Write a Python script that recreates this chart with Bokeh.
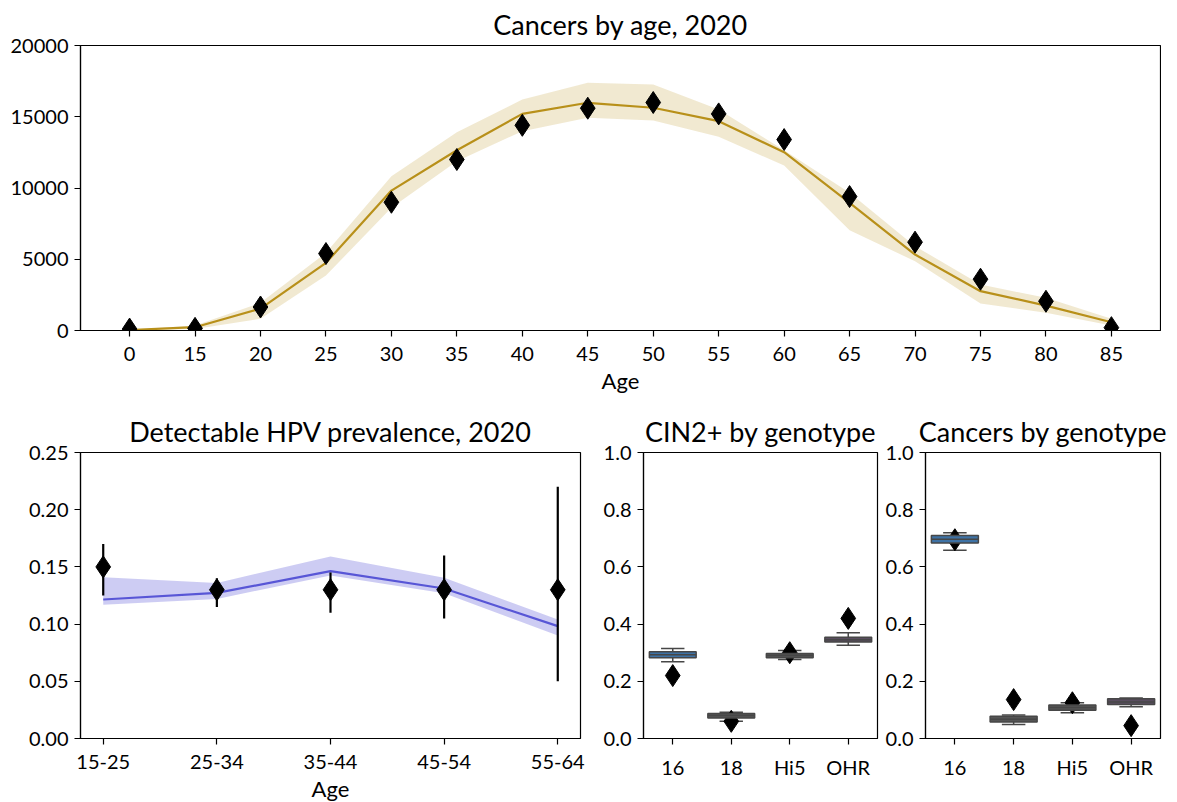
from bokeh.plotting import figure
from bokeh.layouts import column, row
from bokeh.models import Range1d, FixedTicker
from bokeh.embed import file_html
from bokeh.resources import INLINE

FONT = "Lato"

# ---------------- data ----------------
age_labels = ["0", "15", "20", "25", "30", "35", "40", "45", "50", "55", "60", "65", "70", "75", "80", "85"]
cancer_obs = [100, 150, 1650, 5400, 9000, 12000, 14400, 15600, 16000, 15200, 13400, 9400, 6200, 3600, 2050, 200]
cancer_model = [30, 230, 1540, 4750, 9820, 12650, 15200, 15980, 15630, 14690, 12510, 8960, 5330, 2760, 1750, 580]
cancer_upper = [60, 350, 1940, 5450, 10830, 13920, 16210, 17380, 17260, 15510, 12650, 9660, 5920, 3230, 2290, 820]
cancer_lower = [0, 100, 820, 3860, 8610, 11880, 13990, 14930, 14740, 13590, 11580, 7040, 4860, 1890, 1240, 350]

hpv_labels = ["15-25", "25-34", "35-44", "45-54", "55-64"]
hpv_obs = [0.15, 0.13, 0.13, 0.13, 0.13]
hpv_obs_hi = [0.17, 0.14, 0.145, 0.16, 0.22]
hpv_obs_lo = [0.125, 0.115, 0.11, 0.105, 0.05]
hpv_model = [0.1215, 0.1273, 0.1463, 0.1311, 0.0982]
hpv_upper = [0.141, 0.136, 0.159, 0.1405, 0.104]
hpv_lower = [0.117, 0.122, 0.1425, 0.127, 0.090]

genotypes = ["16", "18", "Hi5", "OHR"]
box_colors = ["#3e72a5", "#555555", "#555555", "#594d5f"]

cin_q1 = [0.282, 0.072, 0.282, 0.337]
cin_med = [0.293, 0.080, 0.290, 0.345]
cin_q3 = [0.303, 0.087, 0.297, 0.354]
cin_wlo = [0.268, 0.060, 0.276, 0.326]
cin_whi = [0.315, 0.092, 0.308, 0.370]
cin_obs = [0.22, 0.06, 0.30, 0.42]

can_q1 = [0.684, 0.058, 0.099, 0.119]
can_med = [0.697, 0.067, 0.108, 0.128]
can_q3 = [0.710, 0.078, 0.117, 0.139]
can_wlo = [0.658, 0.049, 0.090, 0.111]
can_whi = [0.719, 0.082, 0.125, 0.142]
can_obs = [0.695, 0.136, 0.125, 0.045]


def style(p, xlabel=None):
    p.title.text_font = FONT
    p.title.text_font_size = "27px"
    p.title.text_font_style = "normal"
    p.title.align = "center"
    p.title.text_color = "black"
    p.outline_line_color = "black"
    p.outline_line_width = 1.2
    p.xgrid.visible = False
    p.ygrid.visible = False
    for ax in (p.xaxis, p.yaxis):
        ax.axis_line_color = "black"
        ax.axis_line_width = 1.2
        ax.major_tick_in = 0
        ax.major_tick_out = 6
        ax.major_tick_line_color = "black"
        ax.major_tick_line_width = 1.2
        ax.minor_tick_line_color = None
        ax.major_label_text_font = FONT
        ax.major_label_text_font_size = "20px"
        ax.major_label_text_color = "black"
    p.xaxis.major_label_standoff = 10
    p.yaxis.major_label_standoff = 6
    if xlabel:
        p.xaxis.axis_label = xlabel
        p.xaxis.axis_label_text_font = FONT
        p.xaxis.axis_label_text_font_size = "22px"
        p.xaxis.axis_label_text_font_style = "normal"
        p.xaxis.axis_label_text_color = "black"
        p.xaxis.axis_label_standoff = 3
    p.background_fill_color = "white"
    p.border_fill_color = "white"


# ---------------- top: cancers by age ----------------
xi = list(range(len(age_labels)))
top = figure(frame_width=1080, frame_height=285, min_border_left=80, min_border_right=1,
             min_border_top=42, min_border_bottom=69, output_backend="svg", toolbar_location=None,
             title="Cancers by age, 2020", x_range=Range1d(-0.75, len(age_labels) - 1 + 0.75),
             y_range=Range1d(0, 20000))
style(top, "Age")
top.xaxis.ticker = FixedTicker(ticks=xi)
top.xaxis.major_label_overrides = {i: l for i, l in enumerate(age_labels)}
top.yaxis.ticker = FixedTicker(ticks=[0, 5000, 10000, 15000, 20000])
gold = "#b8901a"
top.varea(x=xi, y1=cancer_lower, y2=cancer_upper, fill_color=gold, fill_alpha=0.2)
top.line(x=xi, y=cancer_model, line_color=gold, line_width=2.2)
top.scatter(x=xi, y=cancer_obs, marker="diamond", size=22, fill_color="black", line_color="black")

# ---------------- bottom left: HPV prevalence ----------------
hi = list(range(len(hpv_labels)))
bl = figure(frame_width=500, frame_height=286, min_border_left=80, min_border_right=10,
            min_border_top=53, min_border_bottom=55, output_backend="svg", toolbar_location=None,
            title="Detectable HPV prevalence, 2020", x_range=Range1d(-0.2, len(hpv_labels) - 1 + 0.2),
            y_range=Range1d(0, 0.25))
style(bl, "Age")
bl.xaxis.ticker = FixedTicker(ticks=hi)
bl.xaxis.major_label_overrides = {i: l for i, l in enumerate(hpv_labels)}
bl.yaxis.ticker = FixedTicker(ticks=[0, 0.05, 0.10, 0.15, 0.20, 0.25])
bl.yaxis.major_label_overrides = {0: "0.00", 0.05: "0.05", 0.1: "0.10", 0.15: "0.15", 0.2: "0.20", 0.25: "0.25"}
blue = "#5856d6"
bl.varea(x=hi, y1=hpv_lower, y2=hpv_upper, fill_color=blue, fill_alpha=0.3)
bl.line(x=hi, y=hpv_model, line_color=blue, line_width=2.2)
bl.segment(x0=hi, y0=hpv_obs_lo, x1=hi, y1=hpv_obs_hi, line_color="black", line_width=2.2)
bl.scatter(x=hi, y=hpv_obs, marker="diamond", size=22, fill_color="black", line_color="black")


def boxplot(p, q1, med, q3, wlo, whi, obs):
    gx = list(range(len(genotypes)))
    edge = "#474747"
    p.segment(x0=gx, y0=wlo, x1=gx, y1=q1, line_color=edge, line_width=1.5)
    p.segment(x0=gx, y0=q3, x1=gx, y1=whi, line_color=edge, line_width=1.5)
    p.segment(x0=[x - 0.2 for x in gx], y0=wlo, x1=[x + 0.2 for x in gx], y1=wlo, line_color=edge, line_width=1.5)
    p.segment(x0=[x - 0.2 for x in gx], y0=whi, x1=[x + 0.2 for x in gx], y1=whi, line_color=edge, line_width=1.5)
    p.scatter(x=gx, y=obs, marker="diamond", size=22, fill_color="black", line_color="black")
    p.vbar(x=gx, bottom=q1, top=q3, width=0.8, fill_color=box_colors, line_color=edge, line_width=1.5)
    p.segment(x0=[x - 0.4 for x in gx], y0=med, x1=[x + 0.4 for x in gx], y1=med, line_color=edge, line_width=1.5)
    p.xaxis.ticker = FixedTicker(ticks=gx)
    p.xaxis.major_label_overrides = {i: l for i, l in enumerate(genotypes)}
    p.yaxis.ticker = FixedTicker(ticks=[0, 0.2, 0.4, 0.6, 0.8, 1.0])
    p.yaxis.major_label_overrides = {0: "0.0", 0.2: "0.2", 0.4: "0.4", 0.6: "0.6", 0.8: "0.8", 1: "1.0"}


mid = figure(frame_width=234, frame_height=286, min_border_left=53, min_border_right=5,
             min_border_top=53, min_border_bottom=55, output_backend="svg", toolbar_location=None,
             title="CIN2+ by genotype", x_range=Range1d(-0.5, len(genotypes) - 0.5), y_range=Range1d(0, 1))
style(mid)
boxplot(mid, cin_q1, cin_med, cin_q3, cin_wlo, cin_whi, cin_obs)

rt = figure(frame_width=235, frame_height=286, min_border_left=43, min_border_right=15,
            min_border_top=53, min_border_bottom=55, output_backend="svg", toolbar_location=None,
            title="Cancers by genotype", x_range=Range1d(-0.5, len(genotypes) - 0.5), y_range=Range1d(0, 1))
style(rt)
boxplot(rt, can_q1, can_med, can_q3, can_wlo, can_whi, can_obs)

layout = column(top, row(bl, mid, rt))
open("out.html", "w").write(file_html(layout, INLINE))
